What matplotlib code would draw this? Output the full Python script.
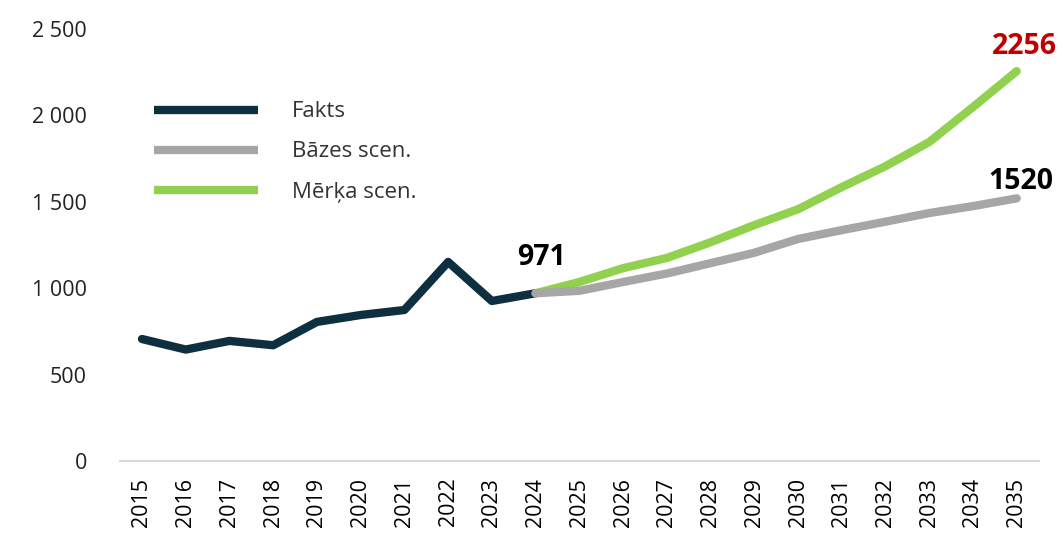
import matplotlib
matplotlib.use("Agg")
import matplotlib.pyplot as plt
from matplotlib.ticker import FuncFormatter

# ── Data ─────────────────────────────────────────────────────────────────────
years_fact = [2015, 2016, 2017, 2018, 2019, 2020, 2021, 2022, 2023, 2024]
fakts      = [706, 645, 695, 670, 805, 845, 874, 1152, 926, 971]

years_scen = [2024, 2025, 2026, 2027, 2028, 2029, 2030, 2031, 2032, 2033, 2034, 2035]
bazes      = [971, 985, 1036, 1085, 1145, 1205, 1285, 1336, 1385, 1435, 1475, 1520]
merka      = [971, 1036, 1116, 1175, 1266, 1365, 1457, 1585, 1706, 1846, 2048, 2256]

all_years  = list(range(2015, 2036))
labels     = ["Fakts", "Bāzes scen.", "Mērķa scen."]

C_FACT  = "#0d2f40"
C_BASE  = "#a6a6a6"
C_GOAL  = "#92d050"

plt.rcParams["font.family"] = ["Open Sans", "DejaVu Sans"]

fig = plt.figure(figsize=(10.63, 5.42), dpi=100)
ax = fig.add_axes([0.113, 0.1494, 0.864, 0.7971])

lw = 6
ax.plot(years_fact, fakts, color=C_FACT, lw=lw, solid_capstyle="round", label=labels[0], zorder=3)
ax.plot(years_scen, merka, color=C_GOAL, lw=lw, solid_capstyle="round", label=labels[2], zorder=4)
ax.plot(years_scen, bazes, color=C_BASE, lw=lw, solid_capstyle="round", label=labels[1], zorder=5)

ax.set_xlim(2014.5, 2035.5)
ax.set_ylim(0, 2500)
ax.set_yticks([0, 500, 1000, 1500, 2000, 2500])
ax.yaxis.set_major_formatter(FuncFormatter(lambda v, p: f"{int(v):,}".replace(",", " ")))
ax.set_xticks(all_years)
ax.set_xticklabels([str(y) for y in all_years], rotation=90, fontsize=15.5, color="#000000")
ax.tick_params(axis="y", labelsize=15.5, length=0, pad=24, labelcolor="#222222")
ax.tick_params(axis="x", length=0, pad=12)

for s in ["top", "right", "left"]:
    ax.spines[s].set_visible(False)
ax.spines["bottom"].set_color("#d9d9d9")
ax.spines["bottom"].set_linewidth(1.5)

# value labels
ax.annotate(str(fakts[-1]), (years_fact[-1], fakts[-1]), xytext=(4, 26), textcoords="offset points",
            ha="center", va="center", fontsize=20.5, fontweight="bold", color="#000000")
ax.annotate(str(merka[-1]), (years_scen[-1], merka[-1]), xytext=(29, 18), textcoords="offset points",
            ha="right", va="center", fontsize=20.5, fontweight="bold", color="#c00000",
            annotation_clip=False)
ax.annotate(str(bazes[-1]), (years_scen[-1], bazes[-1]), xytext=(3, 12), textcoords="offset points",
            ha="center", va="center", fontsize=20.5, fontweight="bold", color="#000000",
            annotation_clip=False)

h, l = ax.get_legend_handles_labels()
order = [0, 2, 1]
leg = ax.legend([h[i] for i in order], [l[i] for i in order], loc="upper left",
                bbox_to_anchor=(0.126, 0.85), bbox_transform=fig.transFigure,
                frameon=False, fontsize=16, handlelength=4.7, handletextpad=1.5,
                labelspacing=0.86)
for t in leg.get_texts():
    t.set_color("#333333")
for line in leg.get_lines():
    line.set_solid_capstyle("butt")
    line.set_linewidth(6)

fig.savefig("out.png", dpi=100)
